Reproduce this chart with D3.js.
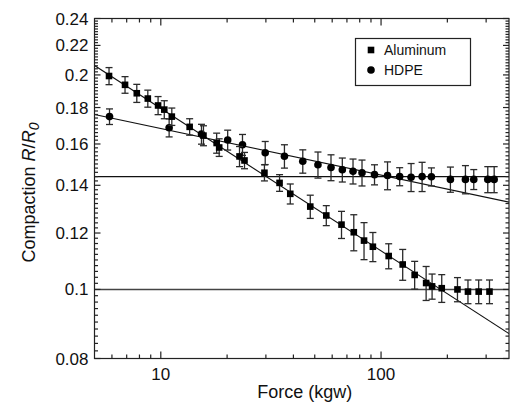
<!DOCTYPE html>
<html><head><meta charset="utf-8">
<script src="https://cdn.jsdelivr.net/npm/d3@7"></script>
<style>html,body{margin:0;padding:0;background:#fff;}svg{display:block;font-family:"Liberation Sans",Arial,sans-serif;}</style>
</head><body>
<svg id="c" width="510" height="405"></svg>
<script>
// ---- data ----
const alForce = [5.82,6.88,7.78,8.73,9.72,10.37,11.22,13.52,15.62,17.93,18.41,22.77,23.99,29.55,34.61,38.71,47.71,56.41,66.14,75.2,83.7,91.8,108.3,125.4,142.1,160.2,170.5,188.6,222.3,248.1,277.5,310.7];
const alRatio = [0.1993,0.1937,0.1885,0.1853,0.1812,0.1788,0.1748,0.1691,0.1644,0.1605,0.1582,0.1537,0.1517,0.1458,0.1411,0.1362,0.1307,0.1270,0.1233,0.1203,0.1171,0.1148,0.1114,0.1084,0.1048,0.1021,0.1010,0.1004,0.1000,0.0993,0.0993,0.0993];
const alErr   = [0.0055,0.0052,0.0055,0.0051,0.0053,0.0052,0.0049,0.0045,0.0053,0.0052,0.0045,0.0050,0.0040,0.0038,0.0038,0.0044,0.0049,0.0041,0.0054,0.0070,0.0070,0.0054,0.0045,0.0054,0.0047,0.0056,0.0041,0.0045,0.0039,0.0038,0.0038,0.0038];
const hdForce = [5.85,10.91,15.30,20.12,23.49,29.79,36.42,44.12,51.71,59.26,66.7,74.6,81.95,93.4,107.0,121.5,136.9,153.6,169.3,206.5,241.6,263.6,305.2,326.3];
const hdRatio = [0.1748,0.1686,0.1652,0.1621,0.1596,0.1555,0.1538,0.1513,0.1496,0.1483,0.1472,0.1465,0.1458,0.1449,0.1445,0.1440,0.1437,0.1440,0.1439,0.1427,0.1427,0.1427,0.1427,0.1427];
const hdErr   = [0.0044,0.0049,0.0053,0.0052,0.0054,0.0058,0.0058,0.0057,0.0063,0.0062,0.0057,0.0059,0.0061,0.0047,0.0065,0.0042,0.0065,0.0068,0.0042,0.0058,0.0065,0.0046,0.0060,0.0060];
const alFit = [[5, 0.2062],[381, 0.0867]];
const hdFit = [[5, 0.1760],[381, 0.1326]];
const refLines = [0.144, 0.1];
const xMajor = [10, 100];
const xMinor = [6,7,8,9,20,30,40,50,60,70,80,90,200,300];
const yMajor = [0.08,0.1,0.12,0.14,0.16,0.18,0.2,0.22,0.24];
const legendLabels = ["Aluminum","HDPE"];

// ---- layout ----
const L=94.5, R=509, T=18.5, B=358.5;
const svg = d3.select("#c");
const x = d3.scaleLog().domain([5,381]).range([L,R]);
const y = d3.scaleLog().domain([0.08,0.24]).range([B,T]);

svg.append("defs").append("clipPath").attr("id","clip")
  .append("rect").attr("x",L).attr("y",T).attr("width",R-L).attr("height",B-T);
const plot = svg.append("g").attr("clip-path","url(#clip)");

// reference lines
plot.selectAll(".ref").data(refLines).join("line")
  .attr("x1",L).attr("x2",R).attr("y1",d=>y(d)).attr("y2",d=>y(d))
  .attr("stroke",(d,i)=>i===0?"#111":"#444").attr("stroke-width",1.4);

// fit lines
const line = d3.line().x(d=>x(d[0])).y(d=>y(d[1]));
[alFit,hdFit].forEach(f=>plot.append("path").attr("d",line(f)).attr("fill","none").attr("stroke","#111").attr("stroke-width",1.2));

function series(fx, fy, fe, shape){
  const data = fx.map((f,i)=>({f, r:fy[i], e:fe[i]}));
  const g = svg.append("g");
  const eb = g.selectAll("g.eb").data(data).join("g").attr("stroke","#2a2a2a").attr("stroke-width",1.3);
  eb.append("line").attr("x1",d=>x(d.f)).attr("x2",d=>x(d.f)).attr("y1",d=>y(d.r-d.e)).attr("y2",d=>y(d.r+d.e));
  eb.append("line").attr("x1",d=>x(d.f)-3.5).attr("x2",d=>x(d.f)+3.5).attr("y1",d=>y(d.r+d.e)).attr("y2",d=>y(d.r+d.e));
  eb.append("line").attr("x1",d=>x(d.f)-3.5).attr("x2",d=>x(d.f)+3.5).attr("y1",d=>y(d.r-d.e)).attr("y2",d=>y(d.r-d.e));
  if(shape==="sq"){
    g.selectAll("rect").data(data).join("rect").attr("x",d=>x(d.f)-3.3).attr("y",d=>y(d.r)-3.3).attr("width",6.6).attr("height",6.6).attr("fill","#000");
  } else {
    g.selectAll("circle").data(data).join("circle").attr("cx",d=>x(d.f)).attr("cy",d=>y(d.r)).attr("r",3.8).attr("fill","#000");
  }
}
series(hdForce,hdRatio,hdErr,"ci");
series(alForce,alRatio,alErr,"sq");

// axes
const ax = svg.append("g").attr("stroke","#222").attr("stroke-width",1.2).attr("fill","none");
ax.append("rect").attr("x",L).attr("y",T).attr("width",R-L).attr("height",B-T);
xMajor.forEach(v=>{ax.append("line").attr("x1",x(v)).attr("x2",x(v)).attr("y1",B).attr("y2",B-7);ax.append("line").attr("x1",x(v)).attr("x2",x(v)).attr("y1",T).attr("y2",T+7);});
xMinor.forEach(v=>{ax.append("line").attr("x1",x(v)).attr("x2",x(v)).attr("y1",B).attr("y2",B-4);ax.append("line").attr("x1",x(v)).attr("x2",x(v)).attr("y1",T).attr("y2",T+4);});
d3.range(80,241,2).map(v=>v/1000).forEach(v=>{
  const major = yMajor.some(m=>Math.abs(m-v)<1e-9);
  const len = major?6:3.5;
  ax.append("line").attr("x1",L).attr("x2",L+len).attr("y1",y(v)).attr("y2",y(v));
  ax.append("line").attr("x1",R).attr("x2",R-len).attr("y1",y(v)).attr("y2",y(v));
});

const txt = svg.append("g").attr("fill","#111").attr("font-size",17);
xMajor.forEach(v=>txt.append("text").attr("x",x(v)).attr("y",B+21).attr("text-anchor","middle").text(v));
yMajor.forEach(v=>txt.append("text").attr("x",L-6).attr("y",y(v)+6).attr("text-anchor","end").text(String(+v.toFixed(2))));
svg.append("text").attr("x",(L+R)/2+3).attr("y",398).attr("text-anchor","middle").attr("font-size",18).attr("fill","#111").text("Force (kgw)");
const yt = svg.append("text").attr("transform","translate(35,"+((T+B)/2+4)+") rotate(-90)").attr("text-anchor","middle").attr("font-size",18).attr("fill","#111");
yt.append("tspan").text("Compaction ");
yt.append("tspan").attr("font-style","italic").text("R");
yt.append("tspan").text("/");
yt.append("tspan").attr("font-style","italic").text("R");
yt.append("tspan").attr("font-style","italic").attr("font-size",14).attr("dy",4).text("0");

// legend
const lg = svg.append("g");
lg.append("rect").attr("x",355.5).attr("y",38.5).attr("width",115).attr("height",47).attr("fill","#fff").attr("stroke","#222").attr("stroke-width",1.2);
lg.append("rect").attr("x",367.7).attr("y",46.7).attr("width",6.6).attr("height",6.6).attr("fill","#000");
lg.append("circle").attr("cx",371).attr("cy",70).attr("r",3.8).attr("fill","#000");
legendLabels.forEach((t,i)=>lg.append("text").attr("x",384).attr("y",55+i*20).attr("font-size",14).attr("fill","#111").text(t));
</script>
</body></html>
